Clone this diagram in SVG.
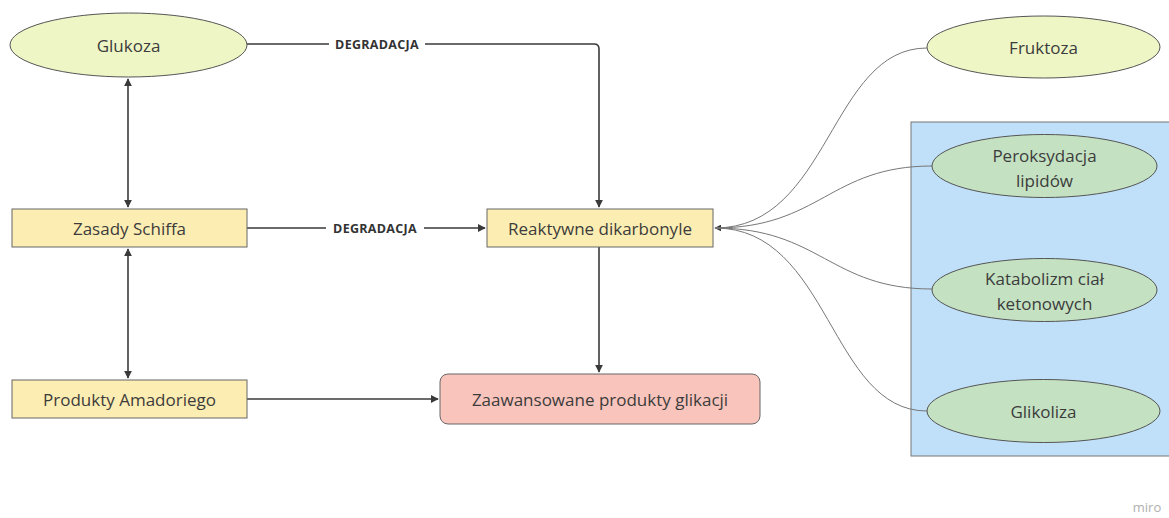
<svg xmlns="http://www.w3.org/2000/svg" width="1169" height="518" viewBox="0 0 1169 518">
<defs>
<style>
.lbl{font-family:"Open Sans","Liberation Sans",sans-serif;font-size:17px;fill:#3c3c3c;text-anchor:middle;dominant-baseline:central}
.deg{font-family:"Open Sans","Liberation Sans",sans-serif;font-size:12.5px;font-weight:bold;fill:#333;text-anchor:middle;dominant-baseline:central;letter-spacing:0.3px}
.yel{fill:#fcedb2;stroke:#666;stroke-width:1}
.lime{fill:#eef6c6;stroke:#555;stroke-width:1}
.grn{fill:#c4e2c2;stroke:#555;stroke-width:1}
.edge{fill:none;stroke:#3a3a3a;stroke-width:1.6}
.curve{fill:none;stroke:#777;stroke-width:1}
</style>
<marker id="ah" viewBox="0 0 10 10" refX="9" refY="5" markerWidth="5" markerHeight="5" orient="auto-start-reverse" markerUnits="strokeWidth">
<path d="M0,0 L10,5 L0,10 z" fill="#3a3a3a"/>
</marker>
<marker id="ahs" viewBox="0 0 10 10" refX="9" refY="5" markerWidth="7" markerHeight="7" orient="auto" markerUnits="strokeWidth">
<path d="M0,0 L10,5 L0,10 z" fill="#3a3a3a"/>
</marker>
</defs>
<rect width="1169" height="518" fill="#ffffff"/>

<g id="group-blue">
<rect x="911" y="122" width="262" height="334" fill="#bfe0f8" stroke="#777" stroke-width="1"/>
</g>

<g id="connectors">
<path class="edge" d="M247,44 H329 M425,44 H594 Q599,44 599,49 V207" marker-end="url(#ah)"/>
<text class="deg" x="377" y="44">DEGRADACJA</text>
<path class="edge" d="M247,228 H326 M424,228 H485" marker-end="url(#ah)"/>
<text class="deg" x="375" y="228">DEGRADACJA</text>
<path class="edge" d="M128,79 V207" marker-start="url(#ah)" marker-end="url(#ah)"/>
<path class="edge" d="M128,249 V378" marker-start="url(#ah)" marker-end="url(#ah)"/>
<path class="edge" d="M599,247 V372" marker-end="url(#ah)"/>
<path class="edge" d="M247,399 H438" marker-end="url(#ah)"/>
<path class="curve" d="M927,48 C830,48 830,228 715,228" marker-end="url(#ahs)"/>
<path class="curve" d="M932,166 C830,166 820,228 715,228"/>
<path class="curve" d="M932,289 C830,289 820,228 715,228"/>
<path class="curve" d="M927,411 C830,411 830,228 715,228"/>
</g>

<g id="glukoza">
<ellipse class="lime" cx="128.5" cy="45" rx="118.5" ry="32"/>
<text class="lbl" x="128.5" y="45">Glukoza</text>
</g>
<g id="zasady-schiffa">
<rect class="yel" x="12" y="209" width="235" height="38"/>
<text class="lbl" x="129.5" y="228">Zasady Schiffa</text>
</g>
<g id="produkty-amadoriego">
<rect class="yel" x="12" y="380" width="235" height="38"/>
<text class="lbl" x="129.5" y="399">Produkty Amadoriego</text>
</g>
<g id="reaktywne-dikarbonyle">
<rect class="yel" x="487" y="209" width="226" height="38"/>
<text class="lbl" x="600" y="228">Reaktywne dikarbonyle</text>
</g>
<g id="zaawansowane">
<rect x="440" y="374" width="320" height="50" rx="8" fill="#f9c4bb" stroke="#666" stroke-width="1"/>
<text class="lbl" x="600" y="399">Zaawansowane produkty glikacji</text>
</g>
<g id="fruktoza">
<ellipse class="lime" cx="1043.5" cy="47" rx="116.5" ry="31"/>
<text class="lbl" x="1043.5" y="47">Fruktoza</text>
</g>
<g id="peroksydacja">
<ellipse class="grn" cx="1044.5" cy="166" rx="112.5" ry="31.5"/>
<text class="lbl" x="1044.5" y="155">Peroksydacja</text>
<text class="lbl" x="1044.5" y="180">lipidów</text>
</g>
<g id="katabolizm">
<ellipse class="grn" cx="1044.5" cy="290" rx="112.5" ry="31.5"/>
<text class="lbl" x="1044.5" y="278">Katabolizm ciał</text>
<text class="lbl" x="1044.5" y="303">ketonowych</text>
</g>
<g id="glikoliza">
<ellipse class="grn" cx="1043.5" cy="411" rx="116.5" ry="31.5"/>
<text class="lbl" x="1043.5" y="411">Glikoliza</text>
</g>
<text x="1147" y="512" font-family="Open Sans, Liberation Sans, sans-serif" font-size="13" fill="#b0b0b0" text-anchor="middle">miro</text>
</svg>
